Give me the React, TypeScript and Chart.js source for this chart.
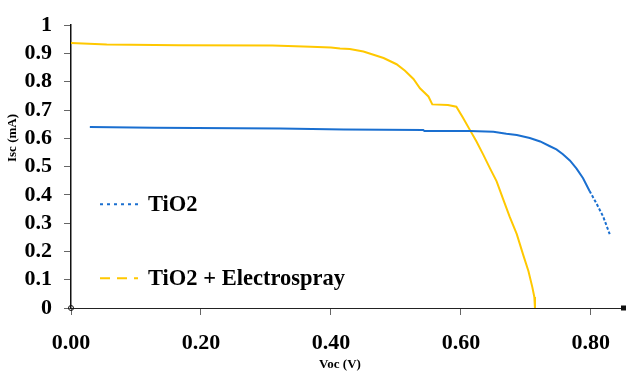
import React, { useEffect, useRef } from "react";
import { Chart, registerables } from "chart.js";

Chart.register(...registerables);

// TiO2 series (V, mA)
const tio2V = [0.029, 0.128, 0.322, 0.42, 0.542, 0.544, 0.614, 0.65, 0.67, 0.686, 0.706, 0.722, 0.737, 0.747, 0.757, 0.768, 0.778, 0.788, 0.798, 0.809, 0.819, 0.829];
const tio2I = [0.640, 0.637, 0.635, 0.631, 0.629, 0.626, 0.626, 0.623, 0.616, 0.612, 0.601, 0.589, 0.572, 0.561, 0.544, 0.521, 0.493, 0.459, 0.414, 0.368, 0.323, 0.261];

// TiO2 + Electrospray series (V, mA)
const esV = [0.0, 0.055, 0.166, 0.31, 0.369, 0.40, 0.414, 0.429, 0.450, 0.481, 0.501, 0.514, 0.527, 0.537, 0.550, 0.556, 0.580, 0.593, 0.603, 0.614, 0.624, 0.634, 0.645, 0.655, 0.665, 0.675, 0.686, 0.696, 0.704, 0.710, 0.713, 0.714];
const esI = [0.937, 0.932, 0.929, 0.928, 0.924, 0.921, 0.918, 0.916, 0.907, 0.884, 0.862, 0.839, 0.810, 0.777, 0.748, 0.720, 0.718, 0.712, 0.674, 0.629, 0.589, 0.544, 0.493, 0.448, 0.385, 0.323, 0.261, 0.187, 0.130, 0.073, 0.039, 0.0];

const seriesNames = ["TiO2", "TiO2 + Electrospray"];
const seriesColors = ["#1a6fd0", "#ffc800"];
const xTitle = "Voc (V)";
const yTitle = "Isc (mA)";

const SERIF = "'Liberation Serif', 'Times New Roman', serif";

const overlayPlugin = {
  id: "overlay",
  afterDraw(chart: any) {
    const ctx = chart.ctx;
    const area = chart.chartArea;
    ctx.save();
    // legend
    const items = [
      { name: seriesNames[0], color: seriesColors[0], dash: [3, 4], y: area.top + 179 },
      { name: seriesNames[1], color: seriesColors[1], dash: [10, 7], y: area.top + 253 },
    ];
    for (const it of items) {
      ctx.strokeStyle = it.color;
      ctx.lineWidth = 2;
      ctx.setLineDash(it.dash);
      ctx.beginPath();
      ctx.moveTo(area.left + 29, it.y);
      ctx.lineTo(area.left + 67, it.y);
      ctx.stroke();
      ctx.setLineDash([]);
      ctx.fillStyle = "#000";
      ctx.font = `bold 22.5px ${SERIF}`;
      ctx.textAlign = "left";
      ctx.textBaseline = "middle";
      ctx.fillText(it.name, area.left + 77, it.y + 1);
    }
    // small markers at the axis ends
    ctx.strokeStyle = "#111";
    ctx.lineWidth = 1;
    ctx.beginPath();
    ctx.arc(area.left, area.bottom, 2.5, 0, Math.PI * 2);
    ctx.stroke();
    ctx.fillStyle = "#111";
    ctx.fillRect(area.right - 3, area.bottom - 2.5, 5, 5);
    // axis titles
    ctx.fillStyle = "#000";
    ctx.font = `bold 13px ${SERIF}`;
    ctx.textAlign = "center";
    ctx.textBaseline = "middle";
    ctx.fillText(xTitle, 340, area.bottom + 57);
    ctx.translate(13, 138);
    ctx.rotate(-Math.PI / 2);
    ctx.fillText(yTitle, 0, 0);
    ctx.restore();
  },
};

export default function App() {
  const ref = useRef<HTMLCanvasElement>(null);
  useEffect(() => {
    if (!ref.current) return;
    const chart = new Chart(ref.current, {
      type: "line",
      data: {
        datasets: [
          {
            label: seriesNames[0],
            data: tio2V.map((v, i) => ({ x: v, y: tio2I[i] })),
            borderColor: seriesColors[0],
            borderWidth: 2,
            pointRadius: 0,
            tension: 0,
            segment: {
              borderDash: (c: any) => (c.p0.parsed.x >= 0.79 ? [3, 2] : undefined),
            },
          },
          {
            label: seriesNames[1],
            data: esV.map((v, i) => ({ x: v, y: esI[i] })),
            borderColor: seriesColors[1],
            borderWidth: 2,
            pointRadius: 0,
            tension: 0,
          },
        ],
      },
      options: {
        responsive: false,
        animation: false,
        layout: { padding: { top: 14, right: 3, left: 0, bottom: 0 } },
        plugins: { legend: { display: false }, tooltip: { enabled: false } },
        scales: {
          x: {
            type: "linear",
            min: 0,
            max: 0.851,
            ticks: {
              stepSize: 0.2,
              includeBounds: false,
              autoSkip: false,
              maxRotation: 0,
              padding: 15,
              color: "#000",
              font: { family: SERIF, size: 22, weight: "bold" },
              callback: (v: any) => Number(v).toFixed(2),
            },
            grid: { drawOnChartArea: false, tickLength: 7, color: "#666", tickColor: "#666" },
            border: { color: "#222", width: 1 },
            afterFit: (s: any) => { s.height = 63; },
          },
          y: {
            type: "linear",
            min: 0,
            max: 1,
            ticks: {
              stepSize: 0.1,
              autoSkip: false,
              padding: 12,
              color: "#000",
              font: { family: SERIF, size: 22, weight: "bold" },
              callback: (v: any) => String(Math.round(Number(v) * 10) / 10),
            },
            grid: { drawOnChartArea: false, tickLength: 7, color: "#666", tickColor: "#666" },
            border: { color: "#111", width: 1.5 },
            afterFit: (s: any) => { s.width = 71; },
          },
        },
      },
      plugins: [overlayPlugin],
    } as any);
    return () => chart.destroy();
  }, []);
  return (
    <div style={{ position: "absolute", left: 0, top: 0, width: 627, height: 371, background: "#fff" }}>
      <canvas ref={ref} width={627} height={371} style={{ display: "block" }} />
    </div>
  );
}
